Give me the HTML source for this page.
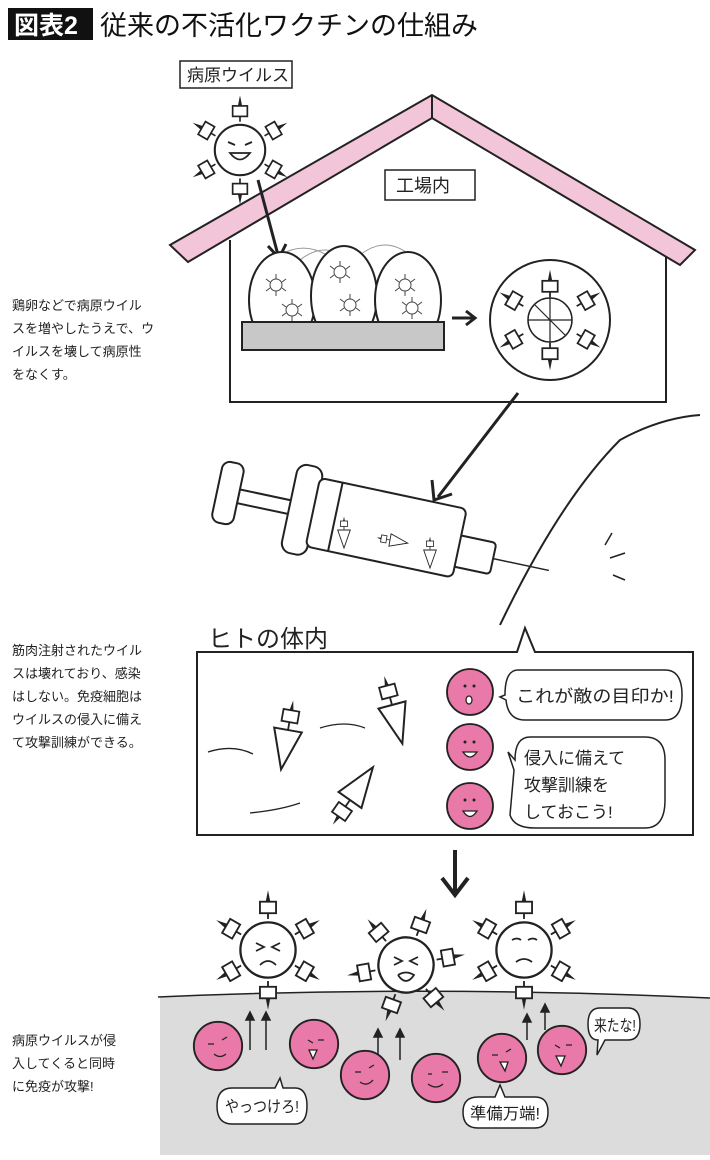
<!DOCTYPE html>
<html><head><meta charset="utf-8"><style>
body{margin:0;background:#fff;}
svg{display:block;font-family:"Liberation Sans","Noto Sans CJK JP",sans-serif;}
</style></head><body>
<svg width="710" height="1160" viewBox="0 0 710 1160" xmlns="http://www.w3.org/2000/svg">
<defs>
<g id="sp"><rect x="-7" y="-22" width="14" height="10" fill="#fff" stroke="#222" stroke-width="1.6"/><line x1="0" y1="-12" x2="0" y2="-7" stroke="#222" stroke-width="1.6"/><path d="M-2,-22 L0,-32 L2,-22Z" fill="#222"/></g>
<g id="vir"><circle r="24" fill="#fff" stroke="#222" stroke-width="2"/>
<use href="#sp" transform="translate(0,-20)"/><use href="#sp" transform="rotate(60) translate(0,-20)"/><use href="#sp" transform="rotate(120) translate(0,-20)"/><use href="#sp" transform="rotate(180) translate(0,-20)"/><use href="#sp" transform="rotate(240) translate(0,-20)"/><use href="#sp" transform="rotate(300) translate(0,-20)"/></g>
<g id="frag"><path d="M-14,0 L14,0 L0,40Z" fill="#fff" stroke="#222" stroke-width="2"/><rect x="-8" y="-20" width="16" height="12" fill="#fff" stroke="#222" stroke-width="1.8"/><line x1="0" y1="-8" x2="0" y2="0" stroke="#222" stroke-width="1.8"/><path d="M-2,-20 L0,-30 L2,-20Z" fill="#222"/></g>
<g id="cell"><circle r="23" fill="#e979a8" stroke="#222" stroke-width="1.8"/></g>
<g id="mini"><circle r="6" fill="#fff" stroke="#444"/><g stroke="#444"><line x1="0" y1="-6" x2="0" y2="-11"/><line x1="0" y1="6" x2="0" y2="11"/><line x1="-6" y1="-3" x2="-10" y2="-6"/><line x1="6" y1="-3" x2="10" y2="-6"/><line x1="-6" y1="3" x2="-10" y2="6"/><line x1="6" y1="3" x2="10" y2="6"/></g></g>
</defs>

<rect x="8" y="8" width="85" height="32" fill="#111"/>
<text x="14" y="34" font-size="25" fill="#fff" font-weight="bold">図表2</text>
<text x="100" y="35" font-size="27" fill="#111">従来の不活化ワクチンの仕組み</text>

<rect x="180" y="61" width="112" height="27" fill="#fff" stroke="#222" stroke-width="1.5"/>
<text x="187" y="81" font-size="17" fill="#222">病原ウイルス</text>

<path d="M230,240 L230,402 L666,402 L666,240" fill="none" stroke="#222" stroke-width="2"/>
<path d="M170,245 L432,95 L695,250 L680,265 L432,118 L188,262Z" fill="#f2c6d8" stroke="#222" stroke-width="2"/>
<line x1="432" y1="95" x2="432" y2="118" stroke="#222" stroke-width="2"/>
<rect x="385" y="170" width="90" height="30" fill="#fff" stroke="#222" stroke-width="1.5"/>
<text x="396" y="192" font-size="18" fill="#222">工場内</text>

<use href="#vir" transform="translate(240,150) scale(1.05)"/>
<path d="M228,142 l7,3 M252,142 l-7,3" stroke="#222" stroke-width="2"/>
<path d="M230,153 Q240,166 250,153Z" fill="#fff" stroke="#222" stroke-width="1.8"/>
<path d="M258,180 L278,255" stroke="#222" stroke-width="3" fill="none"/>
<path d="M268,246 L279,258 L286,244" stroke="#222" stroke-width="3" fill="none"/>

<path d="M300,260 q25,-20 50,0 M360,255 q25,-20 50,0 M270,262 q30,-25 60,-5" stroke="#999" fill="none"/>
<ellipse cx="282" cy="300" rx="33" ry="48" fill="#fff" stroke="#222" stroke-width="2"/>
<ellipse cx="344" cy="296" rx="33" ry="50" fill="#fff" stroke="#222" stroke-width="2"/>
<ellipse cx="408" cy="300" rx="33" ry="48" fill="#fff" stroke="#222" stroke-width="2"/>
<use href="#mini" x="276" y="285"/><use href="#mini" x="292" y="310"/><use href="#mini" x="340" y="272"/><use href="#mini" x="350" y="305"/><use href="#mini" x="405" y="285"/><use href="#mini" x="412" y="308"/>
<rect x="242" y="322" width="202" height="28" fill="#c8c8c8" stroke="#222" stroke-width="2"/>
<path d="M452,318 L474,318 M466,311 L475,318 L466,325" stroke="#222" stroke-width="3" fill="none"/>
<circle cx="550" cy="320" r="60" fill="#fff" stroke="#222" stroke-width="2"/>
<circle cx="550" cy="320" r="22" fill="#fff" stroke="#222" stroke-width="1.5"/>
<g stroke="#222" stroke-width="1.2"><line x1="550" y1="298" x2="550" y2="342"/><line x1="528" y1="320" x2="572" y2="320"/><line x1="535" y1="305" x2="565" y2="335"/></g>
<use href="#sp" transform="translate(550,305) scale(1.1)"/><use href="#sp" transform="translate(550,335) rotate(180) scale(1.1)"/><use href="#sp" transform="translate(530,310) rotate(-60) scale(1.1)"/><use href="#sp" transform="translate(570,310) rotate(60) scale(1.1)"/><use href="#sp" transform="translate(530,330) rotate(-120) scale(1.1)"/><use href="#sp" transform="translate(570,330) rotate(120) scale(1.1)"/>

<text font-size="13" fill="#222"><tspan x="12" y="310">鶏卵などで病原ウイル</tspan><tspan x="12" y="333">スを増やしたうえで、ウ</tspan><tspan x="12" y="356">イルスを壊して病原性</tspan><tspan x="12" y="379">をなくす。</tspan></text>

<path d="M518,393 L438,497 M432,480 L434,500 L452,494" stroke="#222" stroke-width="3" fill="none"/>

<path d="M500,625 Q560,500 620,440 Q660,418 700,415" stroke="#222" stroke-width="2" fill="none"/>
<g stroke="#222" stroke-width="1.5"><line x1="605" y1="545" x2="612" y2="533"/><line x1="610" y1="558" x2="625" y2="553"/><line x1="613" y1="575" x2="625" y2="580"/></g>

<g transform="rotate(12 350 520)" stroke="#222" stroke-width="2" fill="#fff">
<line x1="470" y1="528" x2="555" y2="528" stroke-width="1.5"/>
<rect x="458" y="512" width="40" height="32" rx="4"/>
<rect x="236" y="513" width="60" height="14"/>
<rect x="214" y="488" width="22" height="62" rx="8"/>
<rect x="288" y="475" width="26" height="90" rx="10"/>
<rect x="312" y="485" width="150" height="70" rx="6"/>
<line x1="335" y1="485" x2="335" y2="555"/>
</g>
<use href="#frag" transform="translate(344,530) scale(0.45)"/>
<use href="#frag" transform="translate(390,540) rotate(-80) scale(0.45)"/>
<use href="#frag" transform="translate(430,550) scale(0.45)"/>

<text x="208" y="647" font-size="24" fill="#222">ヒトの体内</text>
<path d="M197,652 L517,652 L525,628 L535,652 L693,652 L693,835 L197,835Z" fill="#fff" stroke="#222" stroke-width="2"/>
<use href="#frag" transform="translate(288,730) rotate(10)"/>
<use href="#frag" transform="translate(392,705) rotate(-15)"/>
<use href="#frag" transform="translate(350,800) rotate(-145)"/>
<path d="M208,752 q25,-8 45,2 M320,728 q25,-8 45,0 M250,813 q30,-3 50,-10" stroke="#222" fill="none" stroke-width="1.3"/>
<use href="#cell" x="470" y="692"/><use href="#cell" x="470" y="747"/><use href="#cell" x="470" y="806"/>
<g fill="#222"><circle cx="465" cy="686" r="1.5"/><circle cx="474" cy="686" r="1.5"/><circle cx="465" cy="742" r="1.5"/><circle cx="474" cy="742" r="1.5"/><circle cx="465" cy="800" r="1.5"/><circle cx="474" cy="800" r="1.5"/></g>
<g fill="#fff" stroke="#222" stroke-width="1.3"><ellipse cx="469" cy="700" rx="3" ry="4"/><path d="M463,752 Q470,762 477,752Z"/><path d="M463,811 Q470,822 477,811Z"/></g>
<path d="M518,670 Q505,670 505,695 L500,697 L506,700 Q508,720 525,720 L665,720 Q682,720 682,695 Q682,670 665,670Z" fill="#fff" stroke="#222" stroke-width="1.5"/>
<text x="516" y="702" font-size="17" fill="#222" textLength="158" lengthAdjust="spacingAndGlyphs">これが敵の目印か!</text>
<path d="M530,737 Q515,737 515,760 L508,752 L514,770 L510,815 Q514,828 535,828 L645,828 Q665,828 665,800 L665,760 Q665,737 645,737Z" fill="#fff" stroke="#222" stroke-width="1.5"/>
<text font-size="17" fill="#222"><tspan x="524" y="764">侵入に備えて</tspan><tspan x="524" y="791">攻撃訓練を</tspan><tspan x="524" y="818">しておこう!</tspan></text>

<text font-size="13" fill="#222"><tspan x="12" y="655">筋肉注射されたウイル</tspan><tspan x="12" y="678">スは壊れており、感染</tspan><tspan x="12" y="701">はしない。免疫細胞は</tspan><tspan x="12" y="724">ウイルスの侵入に備え</tspan><tspan x="12" y="747">て攻撃訓練ができる。</tspan></text>

<path d="M455,850 L455,893 M442,878 L455,895 L468,878" stroke="#222" stroke-width="4" fill="none"/>

<path d="M160,997 Q430,985 710,998 L710,1155 L160,1155Z" fill="#dcdcdc" stroke="none"/>
<path d="M158,997 Q430,985 710,998" stroke="#222" stroke-width="1.5" fill="none"/>
<use href="#vir" transform="translate(268,950) scale(1.15)"/>
<use href="#vir" transform="translate(406,965) rotate(20) scale(1.15)"/>
<use href="#vir" transform="translate(524,950) scale(1.15)"/>
<g stroke="#222" stroke-width="1.8" fill="none">
<path d="M256,943 l8,4 l-8,4 M280,943 l-8,4 l8,4 M260,965 q8,-8 16,0"/>
<path d="M394,957 l8,4 l-8,4 M418,957 l-8,4 l8,4 M398,975 q8,-5 16,0 q-8,12 -16,0"/>
<path d="M512,940 q5,-3 9,0 M528,940 q5,-3 9,0 M516,962 q8,-6 16,0"/>
</g>
<g stroke="#222" stroke-width="1.5" fill="#222">
<line x1="250" y1="1050" x2="250" y2="1018"/><path d="M246,1020 L250,1012 L254,1020Z"/>
<line x1="266" y1="1050" x2="266" y2="1018"/><path d="M262,1020 L266,1012 L270,1020Z"/>
<line x1="378" y1="1060" x2="378" y2="1035"/><path d="M374,1037 L378,1029 L382,1037Z"/>
<line x1="400" y1="1060" x2="400" y2="1035"/><path d="M396,1037 L400,1029 L404,1037Z"/>
<line x1="527" y1="1040" x2="527" y2="1020"/><path d="M523,1022 L527,1014 L531,1022Z"/>
<line x1="545" y1="1030" x2="545" y2="1010"/><path d="M541,1012 L545,1004 L549,1012Z"/>
</g>
<use href="#cell" transform="translate(218,1046) scale(1.05)"/>
<use href="#cell" transform="translate(314,1044) scale(1.05)"/>
<use href="#cell" transform="translate(365,1075) scale(1.05)"/>
<use href="#cell" transform="translate(436,1078) scale(1.05)"/>
<use href="#cell" transform="translate(502,1058) scale(1.05)"/>
<use href="#cell" transform="translate(562,1050) scale(1.05)"/>
<g stroke="#222" stroke-width="1.3" fill="none">
<path d="M208,1044 h6 M222,1040 l5,-3 M214,1054 q6,5 12,0"/>
<path d="M308,1040 l5,3 M318,1040 h6"/><path d="M309,1050 l8,0 l-4,9Z" fill="#fff"/>
<path d="M355,1072 h6 M369,1068 l5,-3 M360,1082 q7,5 13,-2"/>
<path d="M428,1074 h4 M442,1072 h6 M428,1084 q8,6 15,0"/>
<path d="M492,1055 h6 M506,1052 l5,-3"/><path d="M500,1062 l8,0 l-3,9Z" fill="#fff"/>
<path d="M555,1045 l5,3 M566,1045 h6"/><path d="M556,1056 l9,0 l-4,10Z" fill="#fff"/>
</g>
<path d="M235,1088 L275,1088 L280,1078 L283,1088 L295,1088 Q307,1088 307,1106 Q307,1124 295,1124 L232,1124 Q217,1124 217,1106 Q217,1088 232,1088Z" fill="#fff" stroke="#222" stroke-width="1.5"/>
<text x="225" y="1112" font-size="16" fill="#222" textLength="74" lengthAdjust="spacingAndGlyphs">やっつけろ!</text>
<path d="M478,1097 L495,1097 L500,1085 L505,1097 L535,1097 Q548,1097 548,1112 Q548,1128 535,1128 L478,1128 Q463,1128 463,1112 Q463,1097 478,1097Z" fill="#fff" stroke="#222" stroke-width="1.5"/>
<text x="470" y="1119" font-size="16" fill="#222" textLength="70" lengthAdjust="spacingAndGlyphs">準備万端!</text>
<path d="M600,1008 L628,1008 Q640,1008 640,1024 Q640,1040 628,1040 L605,1040 L597,1055 L598,1040 Q588,1040 588,1024 Q588,1008 600,1008Z" fill="#fff" stroke="#222" stroke-width="1.5"/>
<text x="594" y="1031" font-size="16" fill="#222" textLength="42" lengthAdjust="spacingAndGlyphs">来たな!</text>

<text font-size="13" fill="#222"><tspan x="12" y="1045">病原ウイルスが侵</tspan><tspan x="12" y="1068">入してくると同時</tspan><tspan x="12" y="1091">に免疫が攻撃!</tspan></text>
</svg>
</body></html>
